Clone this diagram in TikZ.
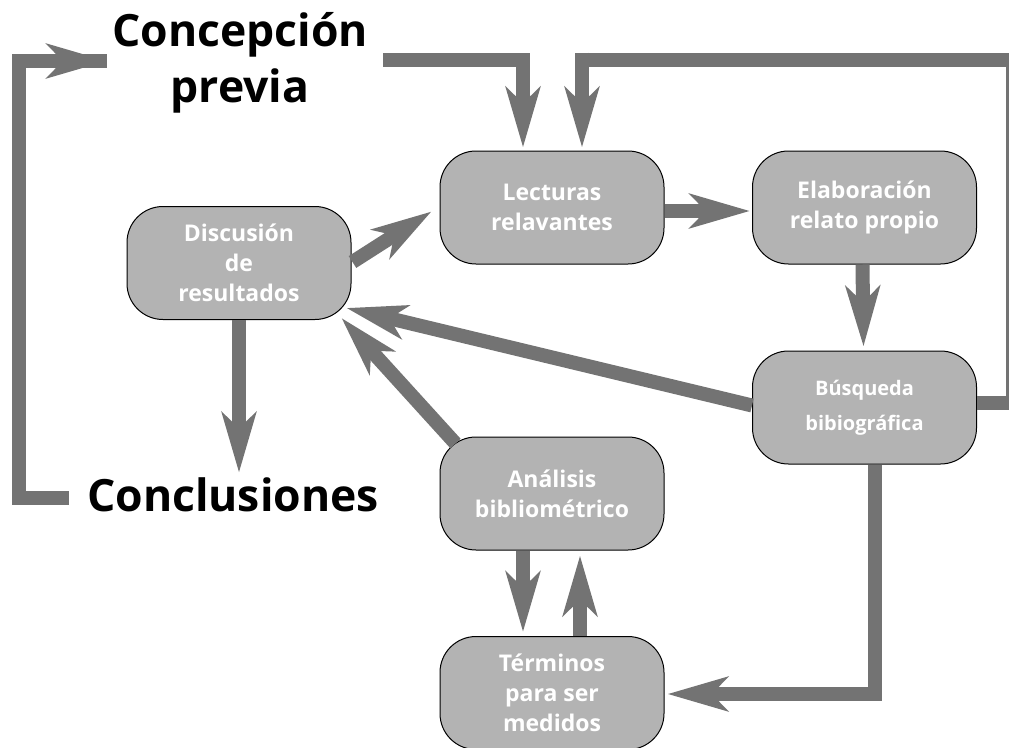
\documentclass[tikz,border=0pt]{standalone}
\usepackage{fontspec}
\setmainfont{Open Sans}
\usetikzlibrary{arrows.meta,calc}
\definecolor{boxgray}{HTML}{B3B3B3}
\definecolor{arrowgray}{HTML}{737373}
\tikzset{
  box/.style={draw=black, line width=1pt, fill=boxgray, rounded corners=36pt,
    minimum width=224pt, minimum height=113pt, text=white, align=center,
    font=\bfseries\fontsize{23}{30}\selectfont, inner sep=0pt},
  flow/.style={draw=arrowgray, line width=14pt, line join=miter,
    -{Stealth[length=60pt,width=34pt,inset=16pt]}},
  plainflow/.style={draw=arrowgray, line width=14pt, line join=miter},
  title/.style={align=center, text=black, font=\bfseries\fontsize{44.5}{56}\selectfont, inner sep=0pt}
}
\begin{document}
\begin{tikzpicture}[x=1pt,y=-1pt]
  \useasboundingbox (0,0) rectangle (1009,747);

  % process steps
  \node[box] (lect) at (552,207.5) {Lecturas\\relavantes};
  \node[box] (elab) at (864.5,207.5) {Elaboración\\relato propio};
  \node[box] (disc) at (239,263) {Discusión\\de\\resultados};
  \node[box, font=\bfseries\fontsize{20}{35}\selectfont] (busq) at (864.5,407.5) {Búsqueda\\bibiográfica};
  \node[box] (anal) at (552,493.5) {Análisis\\bibliométrico};
  \node[box] (term) at (552,693) {Términos\\para ser\\medidos};

  % start and end labels
  \node[title] (conc) at (240,62.5) {Concepción\\previa};
  \node[title] (concl) at (233,495) {Conclusiones};

  % loose ends of the framing lines
  \coordinate (cpout) at (383,60);
  \coordinate (cpin) at (107,61);
  \coordinate (rightedge) at (1013,403);
  \coordinate (leftedge) at (19,498);

  % prior conception feeds the readings
  \draw[flow] (cpout) -| ($(lect.north)+(-29,-3)$);

  % bibliographic search loops back to the readings
  \draw[plainflow] ($(busq.east)+(0,-4.5)$) -- (rightedge) |- ($(lect.north)+(30,-91)$);
  \draw[flow] ($(lect.north)+(30,-98)$) -- ($(lect.north)+(30,-3)$);

  % conclusions loop back to the prior conception
  \draw[plainflow] ($(concl.west)+(-18,3)$) -- (leftedge) |- (cpin);
  \draw[flow] ($(leftedge)+(-7,-437)$) -- (cpin);

  % main chain
  \draw[flow] ($(lect.east)+(0,3.5)$) -- ($(elab.west)+(-2,3.5)$);
  \draw[flow] ($(elab.south)+(-2,0)$) -- ($(busq.north)+(-1,-4)$);
  \draw[flow] ($(busq.west)+(0,-2)$) -- ($(disc.east)+(-5,45)$);
  \draw[flow] ($(anal.north west)+(16,7)$) -- ($(disc.south east)+(-10,-2)$);
  \draw[flow] ($(disc.east)+(1,-1)$) -- ($(lect.west)+(-8,4)$);
  \draw[flow] (disc.south) -- ($(concl.north)+(6,-5)$);
  \draw[flow] ($(anal.south)+(-29,0)$) -- ($(term.north)+(-29,-4)$);
  \draw[flow] ($(term.north)+(28,0)$) -- ($(anal.south)+(28,5)$);
  \draw[flow] (busq.south) ++(10.5,0) coordinate (bsout) (bsout) |- ($(term.east)+(3,1)$);
\end{tikzpicture}
\end{document}
